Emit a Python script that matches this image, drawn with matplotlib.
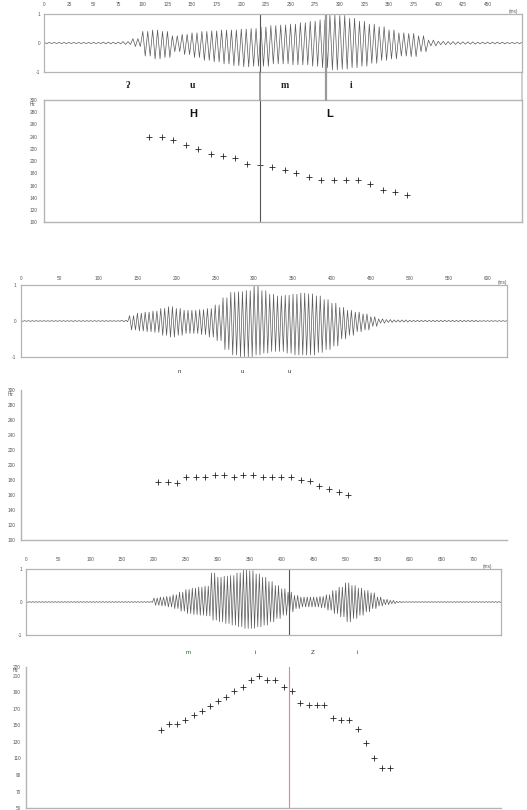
import numpy as np
import matplotlib

matplotlib.use("Agg")
import matplotlib.pyplot as plt
from matplotlib.patches import ConnectionPatch

plt.rcParams["font.family"] = ["Liberation Sans", "DejaVu Sans"]

# ---- waveform envelopes (peak values read every 10 ms) ----
wave1_upper = [0.02, 0.02, 0.02, 0.02, 0.02, 0.02, 0.03, 0.03, 0.05, 0.15,
               0.40, 0.45, 0.40, 0.25, 0.30, 0.35, 0.40, 0.42, 0.45, 0.45,
               0.48, 0.50, 0.55, 0.60, 0.62, 0.65, 0.70, 0.75, 0.80, 0.97,
               0.95, 0.85, 0.75, 0.65, 0.56, 0.45, 0.35, 0.33, 0.25, 0.10,
               0.06, 0.05, 0.04, 0.04, 0.03, 0.03, 0.03, 0.02, 0.02]
wave1_lower = [-0.02, -0.02, -0.02, -0.02, -0.02, -0.02, -0.03, -0.03, -0.05, -0.12,
               -0.45, -0.55, -0.50, -0.30, -0.40, -0.50, -0.60, -0.65, -0.72, -0.78,
               -0.82, -0.80, -0.80, -0.72, -0.72, -0.75, -0.75, -0.80, -0.85, -0.93,
               -0.90, -0.85, -0.80, -0.70, -0.60, -0.55, -0.45, -0.47, -0.30, -0.10,
               -0.06, -0.05, -0.04, -0.04, -0.03, -0.03, -0.03, -0.02, -0.02]

wave2_upper = [0.01] * 13 + [
    0.02, 0.15, 0.22, 0.25, 0.28, 0.35, 0.40, 0.35, 0.30, 0.30,
    0.32, 0.35, 0.45, 0.65, 0.80, 0.82, 0.85, 1.00, 0.85, 0.75,
    0.70, 0.72, 0.75, 0.78, 0.76, 0.70, 0.60, 0.50, 0.38, 0.30,
    0.25, 0.20, 0.12, 0.06, 0.04, 0.03, 0.03, 0.02, 0.02, 0.02,
    0.02, 0.02, 0.02, 0.02, 0.02, 0.02, 0.01, 0.01, 0.01, 0.01]
wave2_lower = [-0.01] * 13 + [
    -0.02, -0.25, -0.28, -0.30, -0.32, -0.40, -0.45, -0.40, -0.35, -0.35,
    -0.38, -0.45, -0.55, -0.80, -0.95, -1.00, -1.00, -0.95, -0.90, -0.85,
    -0.85, -0.90, -0.95, -0.95, -0.95, -0.88, -0.80, -0.70, -0.50, -0.40,
    -0.30, -0.25, -0.15, -0.06, -0.04, -0.03, -0.03, -0.02, -0.02, -0.02,
    -0.02, -0.02, -0.02, -0.02, -0.02, -0.02, -0.01, -0.01, -0.01, -0.01]

wave3_upper = [0.01] * 20 + [
    0.12, 0.15, 0.17, 0.22, 0.30, 0.38, 0.42, 0.45, 0.48, 0.88,
    0.75, 0.78, 0.80, 0.88, 0.97, 0.95, 0.85, 0.75, 0.62, 0.50,
    0.40, 0.30, 0.20, 0.15, 0.15, 0.15, 0.17, 0.22, 0.35, 0.45,
    0.58, 0.50, 0.42, 0.35, 0.28, 0.15, 0.08, 0.05, 0.02, 0.01] + [0.01] * 15
wave3_lower = [-0.01] * 20 + [
    -0.10, -0.12, -0.15, -0.20, -0.28, -0.35, -0.38, -0.40, -0.42, -0.55,
    -0.60, -0.65, -0.70, -0.75, -0.80, -0.80, -0.75, -0.70, -0.60, -0.50,
    -0.40, -0.30, -0.20, -0.15, -0.15, -0.15, -0.18, -0.25, -0.35, -0.45,
    -0.60, -0.50, -0.40, -0.30, -0.20, -0.12, -0.08, -0.05, -0.02, -0.01] + [-0.01] * 15

# ---- F0 points (ms, Hz) ----
f0_1_ms = [106, 119, 131, 144, 156, 169, 181, 194, 206, 219, 231,
           244, 256, 269, 281, 294, 306, 319, 331, 344, 356, 368]
f0_1_hz = [240, 240, 235, 226, 220, 212, 208, 205, 196, 194, 190,
           185, 180, 174, 169, 169, 169, 169, 163, 153, 149, 145]

f0_2_ms = [176, 189, 201, 213, 225, 237, 250, 261, 274, 286, 299,
           311, 323, 335, 347, 360, 372, 384, 396, 409, 421]
f0_2_hz = [177, 177, 176, 183, 183, 184, 186, 186, 183, 186, 186,
           183, 183, 183, 183, 180, 178, 172, 167, 163, 159]

f0_3_ms = [211, 224, 236, 249, 262, 275, 287, 300, 313, 326, 339, 352, 365, 377, 390,
           403, 416, 429, 442, 455, 467, 480, 493, 506, 519, 532, 545, 557, 570]
f0_3_hz = [144, 152, 152, 156, 162, 167, 173, 179, 184, 191, 196, 205, 209, 205, 205,
           196, 191, 177, 175, 175, 175, 159, 156, 156, 146, 129, 111, 99, 99]

# segment labels and boundaries
seg1_labels = ["ʔ", "u", "m", "i"]
seg1_ms = [85, 151, 244, 312]
tone1_labels = ["H", "L"]
tone1_ms = [151, 290]
bound1_ms = [219, 286]

seg2_labels = ["n", "u", "u"]
seg2_ms = [204, 285, 345]

seg3_labels = ["m", "i", "Z", "i"]
seg3_ms = [254, 359, 448, 518]
bound3_ms = 411

W, H = 527, 810
GRID = "#b4b4b4"
TXT = "#555555"
fig = plt.figure(figsize=(W / 100, H / 100), dpi=100)


def px_axes(x0, y0, x1, y1):
    """Axes placed with pixel coordinates measured from the top left corner."""
    return fig.add_axes([x0 / W, 1 - y1 / H, (x1 - x0) / W, (y1 - y0) / H])


def draw_wave(ax, upper, lower, xmax, step, ms_x, pad):
    """Waveform: each 10 ms window drawn as two cycles between its peaks."""
    t = np.arange(len(upper)) * 10.0
    xs = np.column_stack([t, t + 2.5, t + 5, t + 7.5]).ravel()
    ys = np.column_stack([upper, lower, upper, lower]).ravel()
    ax.plot(xs, ys, color="#5a5a5a", lw=0.5)
    ax.set_xlim(0, xmax)
    ax.set_ylim(-1, 1)
    ax.xaxis.tick_top()
    ax.set_xticks(np.arange(0, xmax - 20, step))
    ax.set_yticks([-1, 0, 1])
    ax.set_yticklabels(["-1", "0", "1"])
    ax.tick_params(axis="x", length=0, pad=pad, labelsize=3.4, colors=TXT)
    ax.tick_params(axis="y", length=0, pad=3, labelsize=3.4, colors=TXT)
    for s in ax.spines.values():
        s.set_color(GRID)
        s.set_linewidth(0.9)
    ax.text(ms_x, 1, "(ms)", transform=ax.get_xaxis_transform(), fontsize=3.4,
            color=TXT, ha="center", va="bottom")


def draw_f0(ax, ms, hz, xmax, ymin, ymax, yticks, box, pad, hz_dy):
    """F0 track shown as plus markers."""
    ax.plot(ms, hz, linestyle="none", marker="+", color="#222222", ms=4, mew=0.6)
    ax.set_xlim(0, xmax)
    ax.set_ylim(ymin, ymax)
    ax.set_xticks([])
    ax.set_yticks(yticks)
    ax.tick_params(axis="y", length=0, pad=pad, labelsize=3.4, colors=TXT)
    for name, s in ax.spines.items():
        s.set_color(GRID)
        s.set_linewidth(1.0)
        if not box and name in ("top", "right"):
            s.set_visible(False)
    ax.annotate("Hz", (0, 1), xycoords="axes fraction", xytext=(-pad - 1.5, hz_dy),
                textcoords="offset points", fontsize=3.4, color=TXT,
                ha="right", va="center")


# ---- panel 1 ----
w1 = px_axes(44.3, 14, 522, 72)
draw_wave(w1, wave1_upper, wave1_lower, 485, 25, 476, 5)
p1 = px_axes(44.3, 100, 522, 222.3)
draw_f0(p1, f0_1_ms, f0_1_hz, 485, 100, 300, np.arange(100, 301, 20), True, 5, -3.5)

w1.axvline(bound1_ms[0], color="#555555", lw=0.8)
p1.axvline(bound1_ms[0], color="#555555", lw=0.8)
w1.axvline(bound1_ms[1], color="#9a9a9a", lw=1.6)
for b, c, lw in [(bound1_ms[0], "#555555", 0.8), (bound1_ms[1], "#9a9a9a", 1.6)]:
    fig.add_artist(ConnectionPatch((b, -1), (b, 300), "data", "data",
                                   axesA=w1, axesB=p1, color=c, lw=lw))
fig.add_artist(ConnectionPatch((1, 0), (1, 1), "axes fraction", "axes fraction",
                               axesA=w1, axesB=p1, color=GRID, lw=0.9))

for lab, x in zip(seg1_labels, seg1_ms):
    w1.text(x, -0.23, lab, transform=w1.get_xaxis_transform(), ha="center",
            va="center", fontsize=7, fontweight="bold",
            family=["Liberation Serif", "DejaVu Serif"], color="#222222")
for lab, x in zip(tone1_labels, tone1_ms):
    p1.text(x, 0.885, lab, transform=p1.get_xaxis_transform(), ha="center",
            va="center", fontsize=8, fontweight="bold", color="#111111")

# ---- panel 2 ----
w2 = px_axes(20.7, 285.3, 507, 356.7)
draw_wave(w2, wave2_upper, wave2_lower, 625, 50, 619, 3)
p2 = px_axes(20.7, 389.7, 507, 539.7)
draw_f0(p2, f0_2_ms, f0_2_hz, 625, 100, 300, np.arange(100, 301, 20), False, 4, -3.5)
for lab, x in zip(seg2_labels, seg2_ms):
    w2.text(x, -0.21, lab, transform=w2.get_xaxis_transform(), ha="center",
            va="center", fontsize=4.5, color="#333333")

# ---- panel 3 ----
w3 = px_axes(26.3, 569, 500.7, 635)
draw_wave(w3, wave3_upper, wave3_lower, 743, 50, 722, 5)
w3.axvline(bound3_ms, color="#555555", lw=0.8)
p3 = px_axes(26.3, 667.2, 500.7, 808.3)
draw_f0(p3, f0_3_ms, f0_3_hz, 743, 50, 220, list(range(50, 211, 20)) + [220], False, 4, -2.5)
p3.axvline(bound3_ms, color="#ff7a7a", lw=0.8)
for lab, x in zip(seg3_labels, seg3_ms):
    w3.text(x, -0.26, lab, transform=w3.get_xaxis_transform(), ha="center",
            va="center", fontsize=4.5, color="#2e5e2e" if lab == "m" else "#333333")

fig.savefig("out.png", dpi=100)
